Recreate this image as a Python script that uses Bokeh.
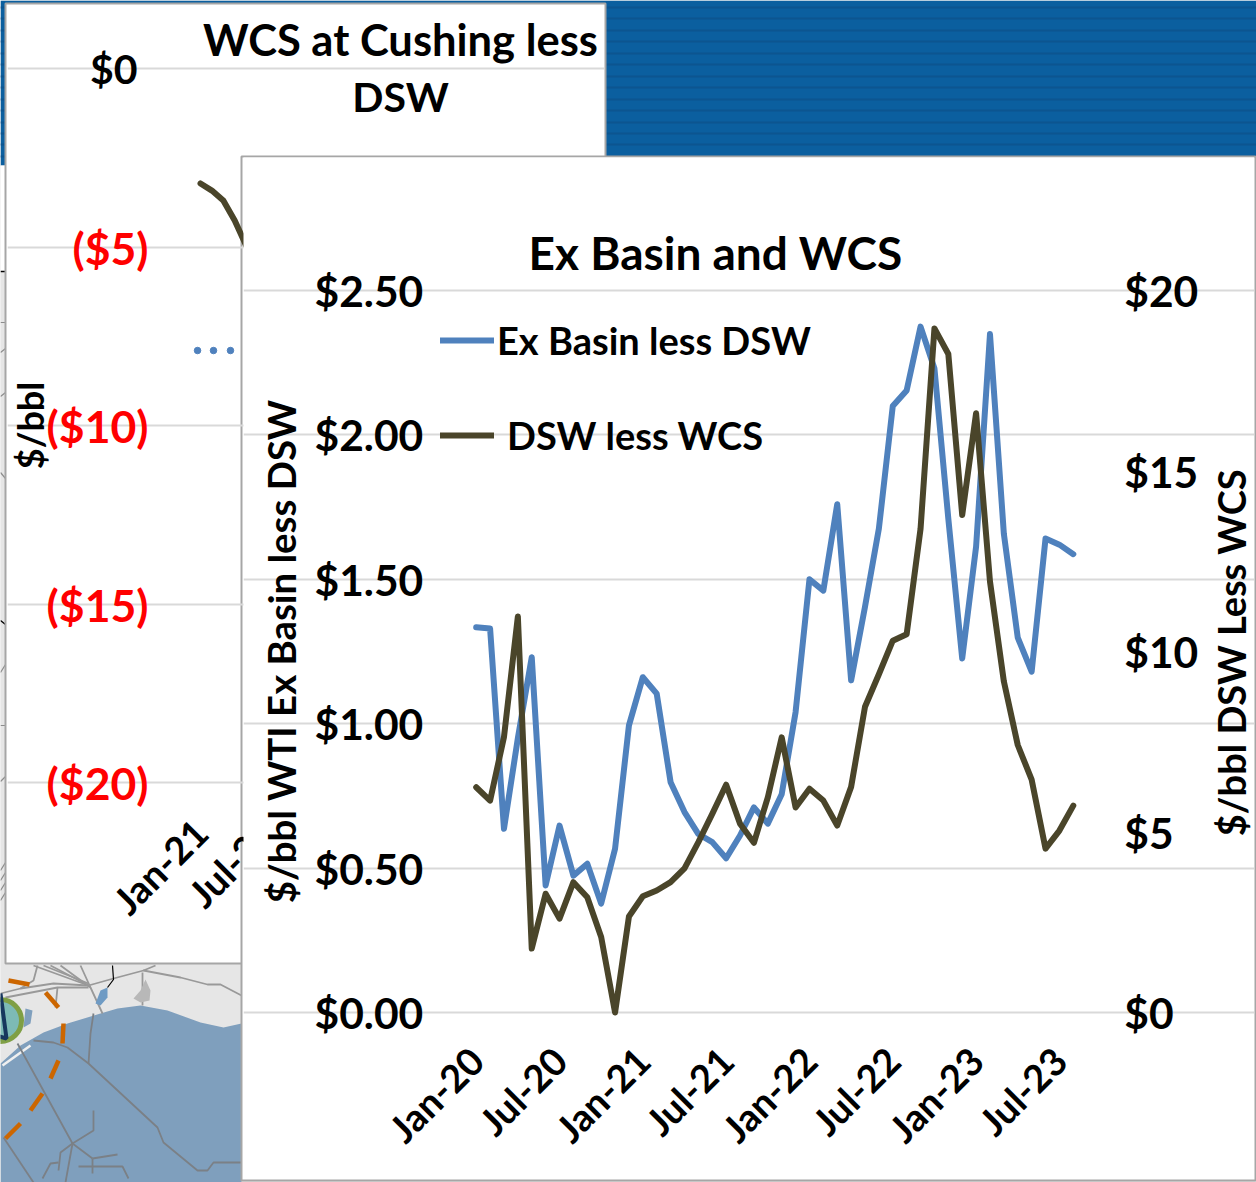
from bokeh.embed import file_html
from bokeh.resources import INLINE
from bokeh.plotting import figure
from bokeh.models import (ColumnDataSource, FixedTicker, Grid, Label, Legend, LegendItem,
                          LinearAxis, Range1d)
from math import pi

# ---------- data ----------
MONTH_TICKS = [0, 6, 12, 18, 24, 30, 36, 42]
MONTH_LABELS = ["Jan-20", "Jul-20", "Jan-21", "Jul-21", "Jan-22", "Jul-22", "Jan-23", "Jul-23"]
EX_BASIN_LESS_DSW = [1.334, 1.33, 0.636, 0.95, 1.23, 0.44, 0.647, 0.474, 0.515, 0.377, 0.567,
                     0.994, 1.161, 1.104, 0.797, 0.694, 0.618, 0.59, 0.534, 0.613, 0.71, 0.654,
                     0.756, 1.04, 1.50, 1.461, 1.76, 1.15, 1.405, 1.676, 2.10, 2.154, 2.375,
                     2.23, 1.71, 1.226, 1.613, 2.349, 1.657, 1.298, 1.18, 1.641, 1.62, 1.587]
DSW_LESS_WCS = [6.24, 5.87, 7.63, 10.97, 1.77, 3.29, 2.6, 3.61, 3.19, 2.09, 0.0, 2.66, 3.22, 3.38,
                3.61, 3.99, 4.72, 5.5, 6.31, 5.23, 4.7, 5.96, 7.62, 5.68, 6.2, 5.87, 5.18, 6.25,
                8.47, 9.37, 10.3, 10.48, 13.4, 18.95, 18.24, 13.78, 16.6, 11.94, 9.17, 7.41,
                6.45, 4.54, 5.04, 5.73]
LEFT_TICKS = [0, 0.5, 1, 1.5, 2, 2.5]
LEFT_LABELS = ["$0.00", "$0.50", "$1.00", "$1.50", "$2.00", "$2.50"]
RIGHT_TICKS = [0, 5, 10, 15, 20]
RIGHT_LABELS = ["$0", "$5", "$10", "$15", "$20"]

BACK_TICKS_RED = [-5, -10, -15, -20]
BACK_LABELS_RED = ["($5)", "($10)", "($15)", "($20)"]
BACK_X = [0, 1, 2, 3, 4]
BACK_WCS = [-3.22, -3.42, -3.70, -4.26, -4.96]
BACK_LEGEND_DOT_X = [-0.26, 1.14, 2.63]
BACK_LEGEND_DOT_Y = [-7.9, -7.9, -7.9]

BLUE = "#4f81bd"
BROWN = "#4a452a"
GRID = "#d9d9d9"
FRAME = "#a6a6a6"
FONT = "Lato"


def place(left, top):
    return {"position": "absolute", "left": f"{left}px", "top": f"{top}px"}


def plain_axis(**kw):
    base = dict(major_tick_line_color=None, minor_tick_line_color=None, axis_line_color=None,
                major_label_text_color="black", major_label_text_font=FONT,
                major_label_text_font_style="bold", axis_label_text_color="black",
                axis_label_text_font=FONT, axis_label_text_font_style="bold")
    base.update(kw)
    return LinearAxis(**base)


# ---------- backdrop: banner and map ----------
bg = figure(width=1256, height=1182, x_range=(0, 1256), y_range=(1182, 0), toolbar_location=None,
            output_backend="svg", x_axis_type=None, y_axis_type=None, min_border=0,
            outline_line_color=None, styles=place(0, 0))
bg.grid.visible = False
bg.background_fill_color = "#e6e6e6"
bg.border_fill_color = "#e6e6e6"

bg.quad(left=0, right=1256, top=[0], bottom=[165], fill_color="#0b5f9f", line_color=None)
STRIPE_TOPS = [6, 17, 29, 40, 52, 63, 75, 86, 98, 109, 121, 132, 143, 155]
bg.quad(left=0, right=1256, top=STRIPE_TOPS, bottom=[t + 2 for t in STRIPE_TOPS], fill_color="#0c5590",
        line_color=None)
bg.quad(left=0, right=1256, top=[165], bottom=[271], fill_color="white", line_color=None)
bg.quad(left=0, right=1256, top=[271], bottom=[1182], fill_color="#e6e6e6", line_color=None)

WATER_X = [0, 20, 43, 67, 100, 117, 140, 167, 200, 223, 241, 241, 0]
WATER_Y = [1063, 1045, 1032, 1023, 1013, 1008, 1005, 1010, 1022, 1027, 1023, 1182, 1182]
bg.patch(WATER_X, WATER_Y, fill_color="#7f9fbd", line_color=None)
bg.patch([25, 32, 30, 23], [1008, 1010, 1023, 1027], fill_color="#7f9fbd", line_color=None)
bg.line([2, 30], [1065, 1045], line_color="#f0f0f0", line_width=2.5)

LAND_PIPE_X = [[0, 20, 53, 88], [5, 57, 88], [33, 88], [43, 88], [50, 88], [60, 90], [80, 90, 102],
               [37, 33, 20], [55, 57], [88, 113, 143, 180, 207, 220, 241], [143, 155], [142, 142]]
LAND_PIPE_Y = [[993, 988, 983, 985], [997, 987, 987], [965, 985], [965, 983], [965, 985], [965, 987],
               [965, 987, 1013], [965, 980, 988], [1007, 987], [985, 978, 970, 977, 984, 984, 995],
               [970, 965], [972, 1005]]
bg.multi_line(LAND_PIPE_X, LAND_PIPE_Y, line_color="#999999", line_width=1.8)
SEA_PIPE_X = [[17, 72, 92], [93, 90, 88], [33, 53, 67, 88, 157, 163, 197, 207, 213, 241],
              [72, 93, 93], [72, 60, 58], [58, 50, 42], [72, 65], [92, 117], [78, 122, 128],
              [92, 92], [3, 33]]
SEA_PIPE_Y = [[1043, 1143, 1158], [1013, 1033, 1063], [1040, 1042, 1047, 1063, 1127, 1142, 1170, 1170, 1162, 1162],
              [1143, 1130, 1110], [1143, 1152, 1170], [1162, 1163, 1178], [1143, 1182], [1158, 1154],
              [1166, 1166, 1178], [1158, 1173], [1137, 1182]]
bg.multi_line(SEA_PIPE_X, SEA_PIPE_Y, line_color="#7b8086", line_width=1.8)
bg.patch([95, 100, 107, 107, 100], [1003, 990, 987, 997, 1005], fill_color="#6f9bc4", line_color=None)
bg.line([112, 113, 107], [965, 979, 987], line_color="black", line_width=1.2)
bg.patch([133, 140, 145, 150, 149, 140], [998, 990, 979, 990, 1000, 1002], fill_color="#b8b8b8", line_color=None)

ORANGE_X = [[8, 29], [45, 58], [63, 62], [58, 50], [42, 30], [20, 5]]
ORANGE_Y = [[980, 984], [992, 1007], [1023, 1043], [1060, 1078], [1093, 1110], [1123, 1138]]
bg.multi_line(ORANGE_X, ORANGE_Y, line_color="#cc6600", line_width=4.5)
bg.circle(x=[0], y=[1020], radius=21, fill_color="#7dbab6", line_color="#7f9f45", line_width=5)
bg.line([0, 6, -1], [993, 1038, 1036], line_color="#17375e", line_width=4)

LEFT_LINES_Y = [[322, 322], [352, 348], [396, 392], [472, 478], [672, 664], [725, 725], [781, 776],
                [870, 862], [880, 872], [890, 882], [900, 892]]
bg.multi_line([[0, 5]] * len(LEFT_LINES_Y), LEFT_LINES_Y, line_color="#8c8c8c", line_width=1.2)
bg.multi_line([[0, 5], [0, 5]], [[271, 271], [620, 624]], line_color="black", line_width=1.4)

# panel borders
bg.quad(left=[5, 241], right=[605, 1255], top=[3, 156], bottom=[963, 1180], fill_color="white",
        line_color=FRAME, line_width=2)

# ---------- back chart: WCS at Cushing less DSW ----------
BX0, BY0, BW, BH = 7, 4, 597, 958
B_STEP, B_Y_SCALE = 11.4, 35.7
B_LEFT = -0.44  # first month edge


def bx(px):
    return (px - 200) / B_STEP


def by(py):
    return (68 - py) / B_Y_SCALE


back = figure(width=BW, height=BH, toolbar_location=None, output_backend="svg",
              x_range=Range1d(bx(BX0), bx(BX0 + BW)), y_range=Range1d(by(BY0 + BH), by(BY0)),
              x_axis_type=None, y_axis_type=None, min_border=0, outline_line_color=None,
              border_fill_color=None, background_fill_color=None, styles=place(BX0, BY0))
back.line(BACK_X, BACK_WCS, line_color=BROWN, line_width=6, line_cap="round", line_join="round")
back.scatter(BACK_LEGEND_DOT_X, BACK_LEGEND_DOT_Y, size=6.5, color=BLUE)

red_axis = plain_axis(ticker=FixedTicker(ticks=BACK_TICKS_RED),
                      major_label_overrides=dict(zip(BACK_TICKS_RED, BACK_LABELS_RED)),
                      fixed_location=B_LEFT, major_label_standoff=41, major_label_text_color="#ff0000",
                      major_label_text_font_size="44.5px")
back.add_layout(red_axis, "left")
zero_axis = plain_axis(ticker=FixedTicker(ticks=[0]), major_label_overrides={0: "$0"},
                       fixed_location=B_LEFT, major_label_standoff=52, major_label_text_font_size="41px")
back.add_layout(zero_axis, "left")
unit_axis = plain_axis(ticker=FixedTicker(ticks=[]), fixed_location=B_LEFT, bounds=(-20, 0), axis_label="$/bbl",
                       axis_label_standoff=144, axis_label_text_font_size="36px")
back.add_layout(unit_axis, "left")
back_x_axis = plain_axis(ticker=FixedTicker(ticks=[0, 6]), major_label_overrides={0: "Jan-21", 6: "Jul-21"},
                         fixed_location=-20, major_label_orientation=pi / 4, major_label_standoff=37,
                         major_label_text_font_size="38px")
back.add_layout(back_x_axis, "below")
back.add_layout(Grid(dimension=1, axis=red_axis, ticker=FixedTicker(ticks=[0] + BACK_TICKS_RED),
                     bounds=(B_LEFT, bx(560)), grid_line_color=GRID, grid_line_width=2))
for txt, py, size in (("WCS at Cushing less", 38, "43.5px"), ("DSW", 96, "41px")):
    back.add_layout(Label(x=bx(400), y=by(py), text=txt, text_align="center", text_baseline="middle",
                          text_font=FONT, text_font_size=size, text_font_style="bold", text_color="black"))

# ---------- front chart: Ex Basin and WCS ----------
FX0, FY0, FW, FH = 243, 157, 1011, 1022
F_STEP, F_Y_SCALE = 13.886, 288.8


def fx(px):
    return (px - 475.7) / F_STEP


def fy(py):
    return (1012 - py) / F_Y_SCALE


months = list(range(len(EX_BASIN_LESS_DSW)))
src = ColumnDataSource(dict(month=months, blue=EX_BASIN_LESS_DSW, brown=DSW_LESS_WCS))

front = figure(width=FW, height=FH, toolbar_location=None, output_backend="svg",
               x_range=Range1d(fx(FX0), fx(FX0 + FW)), y_range=Range1d(fy(FY0 + FH), fy(FY0)),
               x_axis_type=None, y_axis_type=None, min_border=0, outline_line_color=None,
               border_fill_color="white", background_fill_color="white", styles=place(FX0, FY0))
front.extra_y_ranges = {"dsw": Range1d(fy(FY0 + FH) * 8, fy(FY0) * 8)}

left_axis = plain_axis(ticker=FixedTicker(ticks=LEFT_TICKS), bounds=(0, 2.5),
                       major_label_overrides=dict(zip(LEFT_TICKS, LEFT_LABELS)),
                       fixed_location=-0.5, major_label_standoff=40, axis_label="$/bbl WTI Ex Basin less DSW",
                       axis_label_standoff=8, axis_label_text_font_size="38.4px",
                       major_label_text_font_size="42.5px")
front.add_layout(left_axis, "left")
right_axis = plain_axis(y_range_name="dsw", ticker=FixedTicker(ticks=RIGHT_TICKS), bounds=(0, 20),
                        major_label_overrides=dict(zip(RIGHT_TICKS, RIGHT_LABELS)),
                        fixed_location=43.5, major_label_standoff=38, major_label_text_font_size="42.5px")
front.add_layout(right_axis, "right")
front.add_layout(Label(x=fx(1230), y=fy(652), text="$/bbl DSW Less WCS", angle=pi / 2, text_align="center",
                       text_baseline="middle", text_font=FONT, text_font_size="38px", text_font_style="bold",
                       text_color="black"))
x_axis = plain_axis(ticker=FixedTicker(ticks=MONTH_TICKS),
                    major_label_overrides=dict(zip(MONTH_TICKS, MONTH_LABELS)), fixed_location=0,
                    major_label_orientation=pi / 4, major_label_standoff=35, major_label_text_font_size="38px")
front.add_layout(x_axis, "below")
front.add_layout(Grid(dimension=1, axis=left_axis, bounds=(-0.5, 43.5), grid_line_color=GRID, grid_line_width=2))

r_blue = front.line("month", "blue", source=src, line_color=BLUE, line_width=6, line_join="round",
                    line_cap="round")
r_brown = front.line("month", "brown", source=src, y_range_name="dsw", line_color=BROWN, line_width=6,
                     line_join="round", line_cap="round")

front.add_layout(Label(x=fx(715), y=fy(252), text="Ex Basin and WCS", text_align="center", text_baseline="middle",
                       text_font=FONT, text_font_size="46px", text_font_style="bold", text_color="black"))

legend_blue = Legend(items=[LegendItem(label="Ex Basin less DSW", renderers=[r_blue])],
                     location=(197, 816), glyph_width=54, label_standoff=3, border_line_color=None,
                     background_fill_color=None, label_text_font=FONT, label_text_font_size="38px",
                     label_text_color="black", label_text_font_style="bold", margin=0, padding=0)
legend_brown = Legend(items=[LegendItem(label="DSW less WCS", renderers=[r_brown])],
                      location=(197, 721), glyph_width=54, label_standoff=13, border_line_color=None,
                      background_fill_color=None, label_text_font=FONT, label_text_font_size="38px",
                      label_text_color="black", label_text_font_style="bold", margin=0, padding=0)
front.add_layout(legend_blue)
front.add_layout(legend_brown)

open("out.html", "w").write(file_html([bg, back, front], INLINE))
